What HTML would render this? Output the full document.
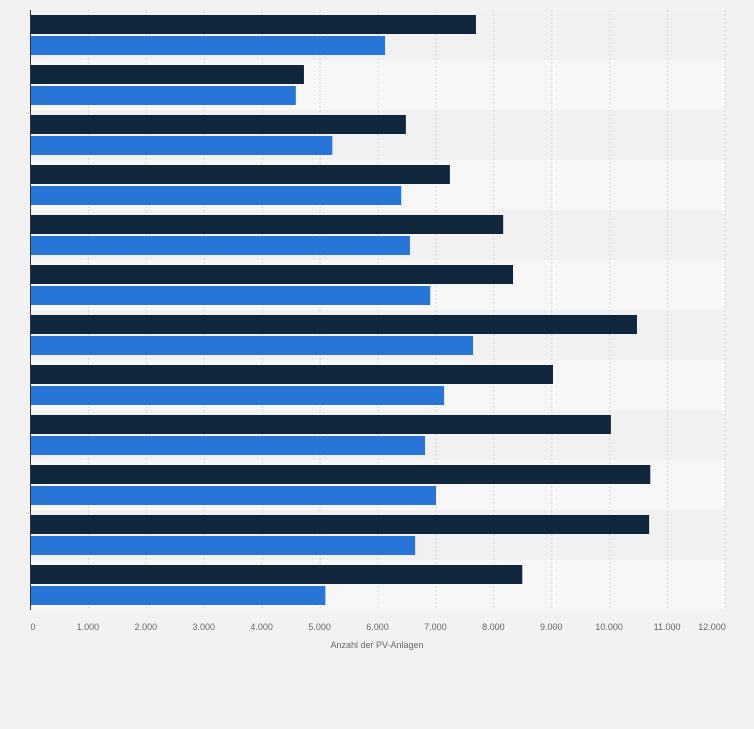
<!DOCTYPE html>
<html><head><meta charset="utf-8"><style>
body{margin:0;background:#f2f2f2;font-family:"Liberation Sans",sans-serif}
</style></head><body>
<svg id="chart" width="754" height="729" xmlns="http://www.w3.org/2000/svg" style="display:block">
<rect x="0" y="0" width="754" height="729" fill="#f2f2f2"/>
<g id="bands"></g><g id="grid"></g><g id="bars"></g><g id="ticks"></g>
<line x1="30.5" y1="10" x2="30.5" y2="610" stroke="#333" stroke-width="1"/>
<text x="377" y="648" font-size="9" fill="#666" text-anchor="middle">Anzahl der PV-Anlagen</text>
</svg>
<script>
const categories=["1","2","3","4","5","6","7","8","9","10","11","12"];
const series1=[7700,4730,6490,7250,8170,8340,10480,9030,10030,10710,10690,8500];
const series2=[6130,4590,5220,6410,6560,6910,7650,7150,6820,7010,6650,5100];
const ticks=[0,1000,2000,3000,4000,5000,6000,7000,8000,9000,10000,11000,12000];
const tickLabels=["0","1.000","2.000","3.000","4.000","5.000","6.000","7.000","8.000","9.000","10.000","11.000","12.000"];
const NS="http://www.w3.org/2000/svg";
const x0=30,x1=725,topY=10,band=50,max=12000;
const xs=v=>x0+v/max*(x1-x0);
const yb=i=>topY+i*band;
function mk(t,a,p){const e=document.createElementNS(NS,t);for(const k in a)e.setAttribute(k,a[k]);p.appendChild(e);return e;}
const B=document.getElementById('bands'),G=document.getElementById('grid'),R=document.getElementById('bars'),T=document.getElementById('ticks');
categories.forEach((c,i)=>{
 const b=mk('rect',{x:x0,y:yb(i),width:x1-x0,height:band,fill:i%2?'#f7f7f7':'#f1f1f1'},B);
 
 
 const r1=mk('rect',{x:x0+1,y:yb(i)+5,width:xs(series1[i])-x0-1,height:19,fill:'#10263d'},R);
 
 
 const r2=mk('rect',{x:x0+1,y:yb(i)+26,width:xs(series2[i])-x0-1,height:19,fill:'#2875d8'},R);
 
 
});
ticks.forEach((t,i)=>{
 if(t>0){const l=mk('line',{x1:xs(t)+.5,y1:topY,x2:xs(t)+.5,y2:topY+band*categories.length,stroke:'#d8d8d8','stroke-dasharray':'2,2'},G);
 
 }
 const tx=mk('text',{x:i==0?x0+3:(i==ticks.length-1?xs(t)-13:xs(t)),y:630,'font-size':9,fill:'#666','text-anchor':'middle'},T);
 tx.textContent=tickLabels[i];
 
 
});
</script>
</body></html>
